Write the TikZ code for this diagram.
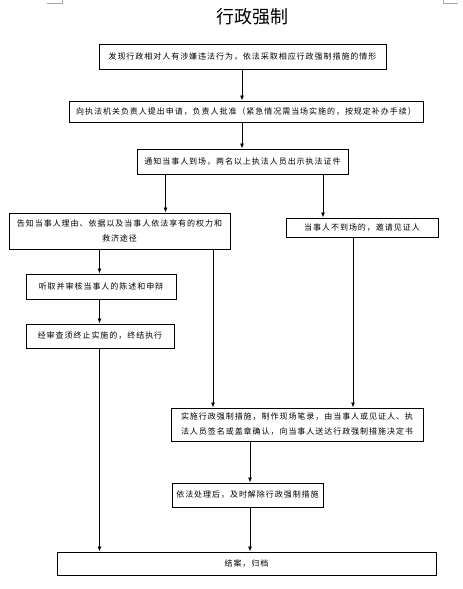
\documentclass[tikz,border=0pt]{standalone}
\usepackage{fontspec}
\newfontfamily\cjk{Noto Sans CJK SC}[LetterSpace=12]
\newfontfamily\cjktitle{Noto Sans CJK SC}
\usetikzlibrary{arrows.meta}
\tikzset{
  box/.style={draw=black,line width=1pt,rectangle,inner sep=0pt,align=center,
    font=\cjk\fontsize{8}{15}\selectfont},
  arr/.style={draw=black,line width=0.8pt,-{Latex[length=5pt,width=4pt]}},
  mark/.style={}
}
\begin{document}
\begin{tikzpicture}[x=1pt,y=-1pt]
\useasboundingbox (0,0) rectangle (463,589);
% page corner marks
\draw[gray!70,line width=0.6pt] (47,3) -- (62,3) -- (62,0);
\draw[gray!70,line width=0.6pt] (443,0) -- (443,3) -- (458,3);
\node[font=\cjktitle\fontsize{18}{20}\selectfont] (title) at (252,17) {行政强制};
\node[box,minimum width=287pt,minimum height=25pt] (n1) at (242.5,56.5) {发现行政相对人有涉嫌违法行为，依法采取相应行政强制措施的情形};
\node[box,minimum width=354pt,minimum height=21pt] (n2) at (246,111.5) {向执法机关负责人提出申请，负责人批准（紧急情况需当场实施的，按规定补办手续）};
\node[box,minimum width=211pt,minimum height=25pt] (n3) at (242.5,161.5) {通知当事人到场，两名以上执法人员出示执法证件};
\node[box,minimum width=221pt,minimum height=36pt] (n4) at (119.5,231) {告知当事人理由、依据以及当事人依法享有的权力和\\救济途径};
\node[box,minimum width=152pt,minimum height=19pt] (n5) at (362,227.5) {当事人不到场的，邀请见证人};
\node[box,minimum width=150pt,minimum height=25pt] (n6) at (101,286.5) {听取并审核当事人的陈述和申辩};
\node[box,minimum width=148pt,minimum height=24pt] (n7) at (100,336) {经审查须终止实施的，终结执行};
\node[box,minimum width=252pt,minimum height=33pt] (n8) at (297,424.5) {实施行政强制措施，制作现场笔录，由当事人或见证人、执\\法人员签名或盖章确认，向当事人送达行政强制措施决定书};
\node[box,minimum width=151pt,minimum height=24pt] (n9) at (247.5,495) {依法处理后，及时解除行政强制措施};
\node[box,minimum width=379pt,minimum height=23pt] (n10) at (246.5,563.5) {结案，归档};
% x positions of connectors
\coordinate (xa) at (242,0);
\coordinate (xb) at (165.5,0);
\coordinate (xc) at (323,0);
\coordinate (xd) at (99.5,0);
\coordinate (xe) at (213,0);
\coordinate (xf) at (353,0);
\coordinate (xg) at (250,0);
\draw[arr] (n1.south -| xa) -- (n2.north -| xa);
\draw[arr] (n2.south -| xa) -- (n3.north -| xa);
\draw[arr] (n3.south -| xb) -- (n4.north -| xb);
\draw[arr] (n3.south -| xc) -- (n5.north -| xc);
\draw[arr] (n4.south -| xd) -- (n6.north -| xd);
\draw[arr] (n4.south -| xe) -- (n8.north -| xe);
\draw[arr] (n5.south -| xf) -- (n8.north -| xf);
\draw[arr] (n6.south -| xd) -- (n7.north -| xd);
\draw[arr] (n7.south -| xd) -- (n10.north -| xd);
\draw[arr] (n8.south -| xg) -- (n9.north -| xg);
\draw[arr] (n9.south -| xg) -- (n10.north -| xg);
\end{tikzpicture}
\end{document}
